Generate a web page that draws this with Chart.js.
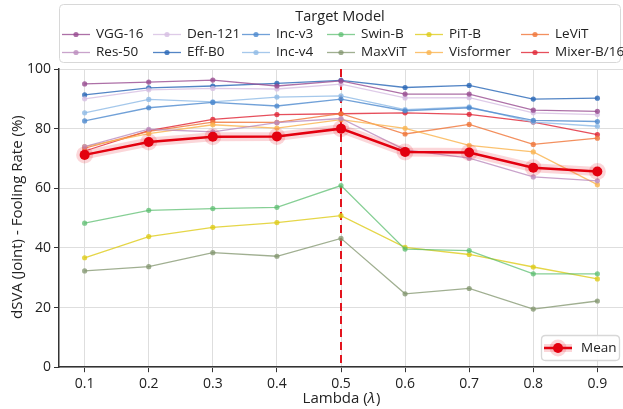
<!DOCTYPE html>
<html>
<head>
<meta charset="utf-8">
<script src="https://cdn.jsdelivr.net/npm/chart.js@4/dist/chart.umd.min.js"></script>
<style>
  html, body { margin: 0; padding: 0; background: #ffffff; }
  #wrap { position: relative; width: 623px; height: 409px; }
</style>
</head>
<body>
<div id="wrap"><canvas id="c" width="623" height="409"></canvas></div>
<script>
// ---- data ----
const lambdas = [0.1, 0.2, 0.3, 0.4, 0.5, 0.6, 0.7, 0.8, 0.9];
const yTicks = [0, 20, 40, 60, 80, 100];
const modelNames = ["VGG-16", "Res-50", "Den-121", "Eff-B0", "Inc-v3", "Inc-v4",
                    "Swin-B", "MaxViT", "PiT-B", "Visformer", "LeViT", "Mixer-B/16"];
const vgg16     = [95.0, 95.6, 96.3, 94.3, 96.0, 91.6, 91.6, 86.2, 85.8];
const res50     = [74.0, 79.8, 78.9, 82.0, 83.4, 72.9, 70.1, 63.8, 62.5];
const den121    = [90.0, 93.0, 93.5, 93.3, 94.9, 90.3, 90.4, 85.3, 84.7];
const effB0     = [91.3, 93.7, 94.3, 95.2, 96.2, 93.8, 94.5, 89.9, 90.2];
const incV3     = [82.6, 87.0, 88.8, 87.6, 89.9, 86.0, 87.0, 82.8, 82.4];
const incV4     = [85.3, 89.8, 89.0, 90.6, 91.0, 86.4, 87.3, 82.2, 80.8];
const swinB     = [48.3, 52.6, 53.2, 53.6, 60.9, 39.6, 39.1, 31.3, 31.3];
const maxViT    = [32.3, 33.7, 38.4, 37.2, 43.2, 24.6, 26.4, 19.5, 22.2];
const pitB      = [36.7, 43.8, 46.9, 48.5, 50.8, 40.2, 37.8, 33.6, 29.6];
const visformer = [74.0, 78.3, 81.3, 80.2, 83.0, 80.1, 74.4, 72.2, 61.2];
const leViT     = [73.5, 79.1, 82.2, 82.1, 85.0, 78.2, 81.4, 74.7, 76.8];
const mixerB16  = [72.5, 79.3, 83.1, 84.7, 85.0, 85.3, 84.8, 82.2, 78.0];
const meanRate  = [71.2, 75.5, 77.3, 77.4, 80.0, 72.2, 72.0, 66.9, 65.6];
const splitLambda = 0.5;
const yTitle = "dSVA (Joint) - Fooling Rate (%)";

const modelSeries = [vgg16, res50, den121, effB0, incV3, incV4, swinB, maxViT, pitB, visformer, leViT, mixerB16];
const modelColors = [
  "rgba(150,72,142,0.78)", "rgba(188,140,190,0.80)", "rgba(214,190,226,0.80)",
  "rgba(40,102,182,0.80)", "rgba(78,138,206,0.80)", "rgba(142,186,230,0.80)",
  "rgba(88,188,108,0.72)", "rgba(128,148,108,0.75)", "rgba(222,202,20,0.78)",
  "rgba(250,180,80,0.82)", "rgba(240,120,60,0.82)", "rgba(224,40,56,0.82)"
];

const toXY = arr => arr.map((v, i) => ({ x: lambdas[i], y: v }));

const datasets = modelSeries.map((s, i) => ({
  label: modelNames[i],
  data: toXY(s),
  borderColor: modelColors[i],
  backgroundColor: modelColors[i],
  borderWidth: 1.3,
  pointRadius: 2.6,
  pointBorderWidth: 0,
  tension: 0,
  order: 10
}));
datasets.push({
  label: "_meanHalo",
  data: toXY(meanRate),
  borderColor: "rgba(230,0,20,0.16)",
  backgroundColor: "rgba(230,0,20,0.16)",
  borderWidth: 9,
  pointRadius: 8.5,
  pointBorderWidth: 0,
  order: 2
});
datasets.push({
  label: "Mean",
  data: toXY(meanRate),
  borderColor: "#e3000f",
  backgroundColor: "#e3000f",
  borderWidth: 2.5,
  pointRadius: 5,
  pointBorderWidth: 0,
  order: 1
});

const FONT = "'Open Sans', 'Noto Sans', sans-serif";

const overlay = {
  id: "overlay",
  beforeDatasetsDraw(chart) {
    const { ctx, chartArea: a, scales } = chart;
    const x = scales.x.getPixelForValue(splitLambda);
    ctx.save();
    ctx.strokeStyle = "#e3141e";
    ctx.lineWidth = 2;
    ctx.setLineDash([8, 5]);
    ctx.beginPath();
    ctx.moveTo(x, a.top);
    ctx.lineTo(x, a.bottom);
    ctx.stroke();
    ctx.restore();
  },
  afterDraw(chart) {
    const { ctx, chartArea: a } = chart;
    ctx.save();
    ctx.fillStyle = "#222";
    ctx.textBaseline = "middle";
    // y-axis title
    ctx.save();
    ctx.translate(18, (a.top + a.bottom) / 2 - 1);
    ctx.rotate(-Math.PI / 2);
    ctx.textAlign = "center";
    ctx.font = "15px " + FONT;
    ctx.fillText(yTitle, 0, 0);
    ctx.restore();
    // x-axis title with italic lambda
    const f1 = "15px " + FONT, f2 = "italic 15px " + FONT;
    const p1 = "Lambda (", p2 = "λ", p3 = ")";
    ctx.font = f1; const w1 = ctx.measureText(p1).width, w3 = ctx.measureText(p3).width;
    ctx.font = f2; const w2 = ctx.measureText(p2).width;
    let sx = (a.left + a.right) / 2 - (w1 + w2 + w3) / 2;
    const ty = 398.5;
    ctx.textAlign = "left";
    ctx.font = f1; ctx.fillText(p1, sx, ty); sx += w1;
    ctx.font = f2; ctx.fillText(p2, sx, ty); sx += w2 + 1;
    ctx.font = f1; ctx.fillText(p3, sx, ty);

    // Top legend box
    const ds = chart.data.datasets;
    ctx.setLineDash([]);
    ctx.fillStyle = "rgba(255,255,255,0.9)";
    ctx.strokeStyle = "#d8d8d8";
    ctx.lineWidth = 1;
    roundRect(ctx, 59.5, 4.5, 561, 58, 4);
    ctx.fill(); ctx.stroke();
    ctx.fillStyle = "#222";
    ctx.font = "14.5px " + FONT;
    ctx.textAlign = "center";
    ctx.fillText("Target Model", 340, 16.5);
    const textX = [96, 187, 276, 361, 449, 555];
    const rowY = [34.5, 52.5];
    const layout = [["VGG-16", "Den-121", "Inc-v3", "Swin-B", "PiT-B", "LeViT"],
                    ["Res-50", "Eff-B0", "Inc-v4", "MaxViT", "Visformer", "Mixer-B/16"]];
    ctx.font = "13.5px " + FONT;
    ctx.textAlign = "left";
    layout.forEach((row, r) => row.forEach((name, c) => {
      const d = ds.find(q => q.label === name);
      const x0 = textX[c] - 34, y0 = rowY[r];
      ctx.strokeStyle = d.borderColor; ctx.lineWidth = 1.3;
      ctx.beginPath(); ctx.moveTo(x0, y0); ctx.lineTo(x0 + 28, y0); ctx.stroke();
      ctx.fillStyle = d.borderColor;
      ctx.beginPath(); ctx.arc(x0 + 14, y0, 2.6, 0, Math.PI * 2); ctx.fill();
      ctx.fillStyle = "#222";
      ctx.fillText(name, textX[c], y0);
    }));

    // Mean legend box (bottom right)
    const m = ds.find(q => q.label === "Mean");
    const h = ds.find(q => q.label === "_meanHalo");
    ctx.fillStyle = "rgba(255,255,255,0.9)";
    ctx.strokeStyle = "#d8d8d8";
    roundRect(ctx, 541.5, 335.5, 78, 25, 4);
    ctx.fill(); ctx.stroke();
    const ly = 348, lx = 544;
    ctx.strokeStyle = h.borderColor; ctx.lineWidth = 8;
    ctx.beginPath(); ctx.moveTo(lx, ly); ctx.lineTo(lx + 28, ly); ctx.stroke();
    ctx.fillStyle = h.backgroundColor;
    ctx.beginPath(); ctx.arc(lx + 14, ly, 8.5, 0, Math.PI * 2); ctx.fill();
    ctx.strokeStyle = m.borderColor; ctx.lineWidth = 2.5;
    ctx.beginPath(); ctx.moveTo(lx, ly); ctx.lineTo(lx + 28, ly); ctx.stroke();
    ctx.fillStyle = m.backgroundColor;
    ctx.beginPath(); ctx.arc(lx + 14, ly, 5, 0, Math.PI * 2); ctx.fill();
    ctx.fillStyle = "#222";
    ctx.font = "13.5px " + FONT;
    ctx.fillText("Mean", 581, ly);
    ctx.restore();
  }
};

function roundRect(ctx, x, y, w, h, r) {
  ctx.beginPath();
  ctx.moveTo(x + r, y);
  ctx.lineTo(x + w - r, y); ctx.quadraticCurveTo(x + w, y, x + w, y + r);
  ctx.lineTo(x + w, y + h - r); ctx.quadraticCurveTo(x + w, y + h, x + w - r, y + h);
  ctx.lineTo(x + r, y + h); ctx.quadraticCurveTo(x, y + h, x, y + h - r);
  ctx.lineTo(x, y + r); ctx.quadraticCurveTo(x, y, x + r, y);
  ctx.closePath();
}

new Chart(document.getElementById("c"), {
  type: "line",
  data: { datasets },
  plugins: [overlay],
  options: {
    responsive: false,
    animation: false,
    devicePixelRatio: 1,
    layout: { autoPadding: false, padding: { top: 69, right: 0, bottom: 14, left: 0 } },
    plugins: { legend: { display: false }, tooltip: { enabled: false }, title: { display: false } },
    scales: {
      x: {
        type: "linear",
        min: 0.06, max: 0.94,
        afterBuildTicks: s => { s.ticks = lambdas.map(v => ({ value: v })); },
        afterFit: s => { s.paddingRight = 0; s.paddingLeft = 0; },
        ticks: { color: "#222", font: { family: FONT, size: 14 }, padding: 3, maxRotation: 0,
                 callback: v => v.toFixed(1) },
        grid: { color: "#dedede", lineWidth: 1, tickLength: 5, tickColor: "#333" },
        border: { color: "#333", width: 1.5 }
      },
      y: {
        min: 0, max: 100,
        afterBuildTicks: s => { s.ticks = yTicks.map(v => ({ value: v })); },
        afterFit: s => { s.width = 59; s.paddingTop = 0; s.paddingBottom = 0; },
        ticks: { color: "#222", font: { family: FONT, size: 14 }, padding: 3 },
        grid: { color: "#dedede", lineWidth: 1, tickLength: 5, tickColor: "#333" },
        border: { color: "#333", width: 1.5 },
        title: { display: false }
      }
    }
  }
});
</script>
</body>
</html>
